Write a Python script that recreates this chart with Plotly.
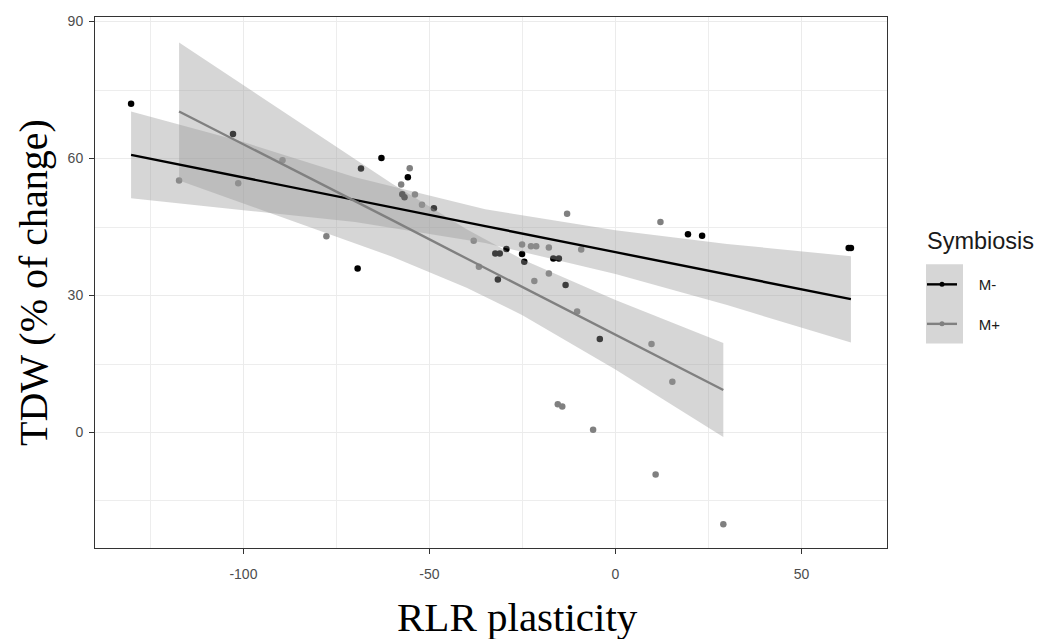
import plotly.graph_objects as go

# ---- data ----
mminus_x = [-130.2, -102.8, -69.3, -68.4, -62.9, -55.8, -57.3, -56.7, -48.8, -32.3, -31.1,
            -31.6, -29.3, -25.1, -24.5, -16.7, -15.2, -13.4, -4.2, 19.5, 23.3, 62.7, 63.3]
mminus_y = [72.0, 65.4, 35.9, 57.8, 60.1, 55.9, 52.2, 51.5, 49.1, 39.2, 39.2,
            33.5, 40.2, 39.1, 37.4, 38.1, 38.1, 32.3, 20.5, 43.4, 43.1, 40.4, 40.4]

mplus_x = [-117.3, -101.4, -89.5, -77.7, -55.3, -57.6, -53.9, -52.0, -38.1, -36.7, -25.1,
           -22.7, -21.3, -17.9, -9.2, -21.8, -17.9, -13.0, 12.1, -10.3, 9.7, 15.3,
           -15.5, -14.3, -6.0, 10.8, 29.0]
mplus_y = [55.2, 54.6, 59.6, 43.0, 57.9, 54.3, 52.1, 49.9, 42.0, 36.3, 41.2,
           40.8, 40.8, 40.5, 40.1, 33.2, 34.8, 47.9, 46.1, 26.5, 19.4, 11.1,
           6.2, 5.7, 0.6, -9.2, -20.1]

# fitted lines and confidence bands
mminus_fx = [-130.2, -100, -70, -35, 0, 30, 63.3]
mminus_fit = [60.8, 55.9, 51.0, 45.2, 39.5, 34.6, 29.2]
mminus_lo = [51.3, 48.7, 46.1, 41.5, 34.7, 27.9, 19.7]
mminus_hi = [70.3, 63.6, 55.9, 48.9, 44.3, 41.3, 38.6]

mplus_fx = [-117.3, -90, -60, -40, -25, 0, 29.0]
mplus_fit = [70.3, 59.0, 46.5, 38.1, 31.8, 21.4, 9.3]
mplus_lo = [55.2, 47.3, 38.5, 31.7, 25.7, 13.8, -1.0]
mplus_hi = [85.4, 70.7, 54.5, 44.5, 37.9, 29.0, 19.6]

groups = ["M-", "M+"]
x_ticks = [-100, -50, 0, 50]
y_ticks = [0, 30, 60, 90]

# ---- styling ----
col_minus = "#000000"
col_plus = "#808080"
band_fill = "rgba(153,153,153,0.4)"

fig = go.Figure()

# points
fig.add_trace(go.Scatter(x=mminus_x, y=mminus_y, mode="markers",
                         marker=dict(color=col_minus, size=6.5), showlegend=False))
fig.add_trace(go.Scatter(x=mplus_x, y=mplus_y, mode="markers",
                         marker=dict(color=col_plus, size=6.5), showlegend=False))

# bands + lines
for fx, lo, hi in [(mminus_fx, mminus_lo, mminus_hi), (mplus_fx, mplus_lo, mplus_hi)]:
    fig.add_trace(go.Scatter(x=fx + fx[::-1], y=hi + lo[::-1], fill="toself",
                             fillcolor=band_fill, line=dict(width=0), mode="lines",
                             hoverinfo="skip", showlegend=False))
for fx, fit, col in [(mminus_fx, mminus_fit, col_minus), (mplus_fx, mplus_fit, col_plus)]:
    fig.add_trace(go.Scatter(x=fx, y=fit, mode="lines",
                             line=dict(color=col, width=2.4), showlegend=False))

# legend entries
NBSP = "\u00a0" * 4
for g, col in zip(groups, [col_minus, col_plus]):
    fig.add_trace(go.Scatter(x=[None], y=[None], mode="lines+markers", name=NBSP + g,
                             legendgroup=g,
                             line=dict(color=col, width=2.4),
                             marker=dict(color=col, size=5)))

# page body has an 8px margin: the figure is placed at (8, 8) in the window
OFF = 8
W, H = 1047 - OFF, 639 - OFF
PANEL_L, PANEL_R, PANEL_T, PANEL_B = 95, 887, 13, 548   # window pixels
L, T = PANEL_L - OFF, PANEL_T - OFF
R, B = W - (PANEL_R - OFF), H - (PANEL_B - OFF)
pw, ph = PANEL_R - PANEL_L, PANEL_B - PANEL_T

def px_x(p):
    return (p - PANEL_L) / pw

def px_y(p):
    return (PANEL_B - p) / ph

axis_common = dict(
    showline=True, linecolor="#333333", linewidth=1, mirror=True,
    ticks="outside", ticklen=5, tickcolor="#333333", tickwidth=1,
    tickfont=dict(family="Liberation Sans, Arial", size=14, color="#4d4d4d"),
    showgrid=True, gridcolor="#ebebeb", gridwidth=1.1, zeroline=False,
)

fig.update_layout(
    width=W, height=H,
    margin=dict(l=L, r=R, t=T, b=B),
    paper_bgcolor="white", plot_bgcolor="white",
    xaxis=dict(range=[-139.9, 73.0], tickmode="array", tickvals=x_ticks,
               ticktext=[str(v) for v in x_ticks], ticklabelstandoff=8,
               minor=dict(dtick=25, tick0=-125, showgrid=True, gridcolor="#ededed",
                          gridwidth=0.7, ticks=""),
               **axis_common),
    yaxis=dict(range=[-25.3, 91.0], tickmode="array", tickvals=y_ticks,
               ticktext=[str(v) for v in y_ticks], ticklabelstandoff=3,
               minor=dict(dtick=15, tick0=-15, showgrid=True, gridcolor="#ededed",
                          gridwidth=0.7, ticks=""),
               **axis_common),
    legend=dict(x=px_x(922), y=px_y(266), xanchor="left", yanchor="top",
                bgcolor="rgba(0,0,0,0)",
                font=dict(family="Liberation Sans, Arial", size=15, color="#1a1a1a"),
                tracegroupgap=17, itemwidth=30),
    shapes=[dict(type="rect", xref="paper", yref="paper",
                 x0=px_x(926), x1=px_x(963), y0=px_y(342), y1=px_y(262),
                 fillcolor="#d6d6d6", line=dict(width=0), layer="above")],
    annotations=[
        dict(text="Symbiosis", xref="paper", yref="paper",
             x=px_x(925), y=px_y(239), showarrow=False,
             font=dict(family="Liberation Sans, Arial", size=23.5, color="#1a1a1a"),
             xanchor="left", yanchor="middle"),
        dict(text="RLR plasticity", xref="paper", yref="paper",
             x=px_x(517), y=px_y(618), showarrow=False,
             font=dict(family="Liberation Serif, Times New Roman", size=41, color="black"),
             xanchor="center", yanchor="middle"),
        dict(text="TDW (% of change)", xref="paper", yref="paper",
             x=px_x(34), y=px_y(281), showarrow=False, textangle=-90,
             font=dict(family="Liberation Serif, Times New Roman", size=40, color="black"),
             xanchor="center", yanchor="middle"),
    ],
)

fig.write_html("out.html")
